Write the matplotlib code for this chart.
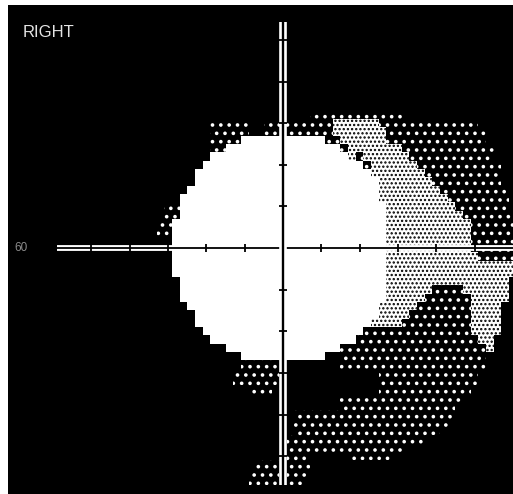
import matplotlib
matplotlib.use("Agg")
import matplotlib.pyplot as plt
import matplotlib.patheffects as pe
from matplotlib.collections import PolyCollection

# Grey-scale visual field, 2 deg cells.  row 0 is +60 deg, col 0 is -60 deg.
# level: 1 = dark dither, 2 = light stipple, 3 = white (seen); rest is black.
# (row, first col, last col, level)
field_runs = [
    (14, 34, 45, 1),
    (15, 21, 25, 1), (15, 28, 36, 1), (15, 37, 42, 2), (15, 43, 55, 1),
    (16, 21, 25, 1), (16, 28, 36, 1), (16, 37, 43, 2), (16, 44, 56, 1),
    (17, 21, 24, 1), (17, 25, 35, 3), (17, 36, 37, 1), (17, 38, 43, 2), (17, 44, 56, 1),
    (18, 21, 22, 1), (18, 23, 37, 3), (18, 38, 38, 1), (18, 39, 45, 2), (18, 46, 57, 1),
    (19, 21, 38, 3), (19, 39, 39, 2), (19, 40, 40, 1), (19, 41, 46, 2), (19, 47, 57, 1),
    (20, 20, 40, 3), (20, 41, 41, 1), (20, 42, 47, 2), (20, 48, 58, 1),
    (21, 19, 41, 3), (21, 42, 48, 2), (21, 49, 58, 1),
    (22, 19, 42, 3), (22, 43, 49, 2), (22, 50, 58, 1),
    (23, 18, 42, 3), (23, 43, 50, 2), (23, 51, 59, 1),
    (24, 17, 42, 3), (24, 43, 51, 2), (24, 52, 59, 1),
    (25, 15, 16, 1), (25, 17, 43, 3), (25, 44, 52, 2), (25, 53, 59, 1),
    (26, 15, 16, 1), (26, 17, 43, 3), (26, 44, 53, 2), (26, 54, 60, 1),
    (27, 14, 15, 1), (27, 16, 43, 3), (27, 44, 54, 2), (27, 55, 60, 1),
    (28, 14, 15, 1), (28, 16, 43, 3), (28, 44, 54, 2), (28, 55, 60, 1),
    (29, 16, 43, 3), (29, 44, 54, 2), (29, 55, 60, 1),
    (30, 16, 43, 3), (30, 44, 54, 2), (30, 55, 60, 1),
    (31, 16, 43, 3), (31, 44, 55, 2), (31, 56, 60, 1),
    (32, 16, 43, 3), (32, 44, 60, 2),
    (33, 16, 43, 3), (33, 44, 60, 2),
    (34, 17, 43, 3), (34, 44, 59, 2),
    (35, 17, 43, 3), (35, 44, 49, 2), (35, 50, 53, 1), (35, 54, 59, 2),
    (36, 17, 43, 3), (36, 44, 48, 2), (36, 49, 54, 1), (36, 55, 59, 2),
    (37, 18, 42, 3), (37, 43, 47, 2), (37, 48, 54, 1), (37, 55, 58, 2),
    (38, 19, 42, 3), (38, 43, 46, 2), (38, 47, 54, 1), (38, 55, 58, 2),
    (39, 19, 41, 3), (39, 42, 45, 2), (39, 46, 54, 1), (39, 55, 58, 2),
    (40, 20, 40, 3), (40, 41, 54, 1), (40, 55, 58, 2),
    (41, 21, 39, 3), (41, 40, 55, 1), (41, 56, 57, 2),
    (42, 23, 37, 3), (42, 38, 56, 1), (42, 57, 57, 2),
    (43, 25, 35, 3), (43, 38, 56, 1),
    (44, 25, 29, 1), (44, 38, 56, 1),
    (45, 24, 29, 1), (45, 43, 55, 1),
    (46, 24, 29, 1), (46, 43, 55, 1),
    (47, 26, 28, 1), (47, 43, 54, 1),
    (48, 38, 53, 1),
    (49, 38, 52, 1),
    (50, 32, 52, 1),
    (51, 32, 51, 1),
    (52, 32, 50, 1),
    (53, 31, 48, 1),
    (54, 31, 45, 1),
    (55, 31, 33, 1), (55, 39, 44, 1),
    (56, 27, 29, 1), (56, 31, 33, 1),
    (57, 26, 29, 1), (57, 31, 33, 1),
    (58, 26, 29, 1), (58, 31, 32, 1),
]

x_ticks = [-50, -40, -30, -20, -10, 10, 20, 30, 40, 50]
y_ticks = [-50, -40, -30, -20, -10, 10, 20, 30, 40, 50]
h_axis = (-59, 62)
v_axis = (-57, 54.3)
eye_label = "RIGHT"
ecc_label = "60"

# face colour, dither colour, hatch, hatch line width
styles = {1: ("black", "white", "..", 1.4),
          2: ("white", "black", "....", 1.1),
          3: ("white", "white", None, 1.0)}

fig = plt.figure(figsize=(5.13, 4.94), dpi=100)
ax = fig.add_axes([8 / 513, 0, 505 / 513, 489 / 494])
ax.set_facecolor("black")
ax.set_xlim(-71.8, 60.05)
ax.set_ylim(-59.1, 58.4)
ax.set_xticks([])
ax.set_yticks([])
for s in ax.spines.values():
    s.set_visible(False)

for level, (fc, hc, hatch, hlw) in styles.items():
    verts = []
    for r, c0, c1, lv in field_runs:
        if lv != level:
            continue
        yc = 60 - 2 * r
        x0, x1 = -60 + 2 * c0 - 1, -60 + 2 * c1 + 1
        verts.append([(x0, yc - 1), (x1, yc - 1), (x1, yc + 1), (x0, yc + 1)])
    with plt.rc_context({"hatch.linewidth": hlw}):
        pc = PolyCollection(verts, facecolors=fc, edgecolors=hc, linewidths=0,
                            hatch=hatch, antialiased=False, zorder=1)
    if hasattr(pc, "set_hatch_linewidth"):
        pc.set_hatch_linewidth(hlw)
    ax.add_collection(pc)

# cross-hair: black line with a white rim, ticks cut through the rim
halo = [pe.withStroke(linewidth=4.2, foreground="white")]
ax.plot(h_axis, [0, 0], color="black", lw=1.3, path_effects=halo,
        solid_capstyle="butt", zorder=3)
halo_v = [pe.withStroke(linewidth=5.5, foreground="white")]
ax.plot([0, 0], v_axis, color="black", lw=1.7, path_effects=halo_v,
        solid_capstyle="butt", zorder=3)
ax.plot(x_ticks, [0] * len(x_ticks), ls="none", marker="|", ms=5.5,
        mew=1.3, color="black", zorder=4)
ax.plot([0] * len(y_ticks), y_ticks, ls="none", marker="_", ms=5.5,
        mew=1.3, color="black", zorder=4)

ax.text(-68.1, 50.7, eye_label, color="#e4e4e4", fontsize=12,
        family="Liberation Sans", va="baseline", ha="left", zorder=5)
ax.text(-68.3, 0, ecc_label, color="#8c8c8c", fontsize=8.5,
        family="Liberation Sans", va="center", ha="center", zorder=5)

fig.savefig("out.png", dpi=100)
